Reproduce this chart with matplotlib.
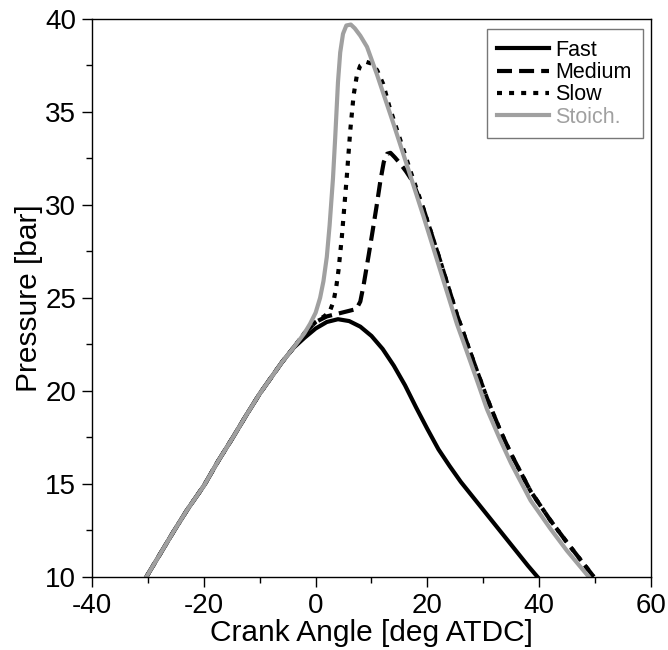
import matplotlib
matplotlib.use("Agg")
import matplotlib.pyplot as plt
from matplotlib.ticker import MultipleLocator

plt.rcParams['font.family'] = ['Liberation Sans', 'DejaVu Sans']
plt.rcParams['axes.unicode_minus'] = False

# crank angle [deg ATDC] / pressure [bar]
# compression stroke, common to all four cases
comp_ca = [-30.3, -28, -25.5, -23, -20, -17.5, -14.8, -12.5, -10, -8, -6, -4]
comp_p = [10.0, 11.15, 12.4, 13.6, 14.9, 16.2, 17.5, 18.65, 19.85, 20.7, 21.55, 22.3]

fast_ca = [-2, 0, 2, 4, 6, 8, 10, 12, 14, 16, 18, 20, 22, 24, 26, 28, 30, 32, 34, 36, 38, 39.7]
fast_p = [22.85, 23.35, 23.7, 23.85, 23.75, 23.45, 22.95, 22.25, 21.35, 20.3, 19.1, 17.95, 16.85,
          15.95, 15.1, 14.35, 13.6, 12.85, 12.1, 11.35, 10.6, 10.0]

medium_ca = [-2, 0, 2, 4, 6, 7.3, 8.0, 8.6, 9.5, 10.1, 10.9, 11.6, 12.2, 12.8, 13.4, 14.2,
             15.2, 16.2, 17.3]
medium_p = [23.1, 23.7, 24.0, 24.15, 24.3, 24.4, 24.8, 25.7, 27.3, 28.4, 29.9, 31.3, 32.3, 32.75,
            32.8, 32.55, 32.2, 31.8, 31.3]

slow_ca = [-2, 0, 1.5, 2.5, 3.2, 3.7, 4.1, 4.7, 5.6, 6.2, 6.8, 7.4, 8.0, 9.0, 10.0, 11.0,
           12.1, 13.2, 14.5, 17.0]
slow_p = [23.1, 23.7, 24.0, 24.25, 24.8, 25.6, 26.5, 28.3, 31.6, 34.0, 35.9, 37.0, 37.5, 37.7,
          37.6, 37.25, 36.5, 35.3, 34.1, 31.8]

# expansion stroke shared by the medium and slow cases
tail_ca = [19.3, 22.3, 25.3, 28.5, 30.7, 33, 35, 38.5, 42, 45, 49.8]
tail_p = [29.8, 27.0, 24.1, 21.4, 19.6, 17.9, 16.6, 14.6, 13.05, 11.85, 10.0]

stoich_ca = [-2, -1, 0, 0.8, 1.4, 2.0, 2.5, 3.1, 3.5, 4.0, 4.4, 4.9, 5.5, 6.3, 7.0, 8.0, 9.2,
             11.0, 13.9, 16.5, 19.3, 22.3, 25.3, 26.5, 28.5, 30.7, 33, 35, 38.5, 42, 45, 48.9]
stoich_p = [23.1, 23.6, 24.2, 25.0, 25.9, 27.2, 28.9, 31.4, 33.6, 36.6, 38.2, 39.2, 39.65, 39.7,
            39.5, 39.1, 38.5, 37.0, 34.4, 32.0, 29.4, 26.5, 23.6, 22.6, 20.9, 19.0, 17.4, 16.1,
            14.1, 12.6, 11.4, 10.0]

gray = '#a0a0a0'

fig = plt.figure(figsize=(6.68, 6.5), dpi=100)
ax = fig.add_axes([0.1382, 0.1128, 0.8358, 0.858])

ax.plot(comp_ca + fast_ca, comp_p + fast_p, color='black', lw=3, label='Fast')
ax.plot(comp_ca + medium_ca + tail_ca, comp_p + medium_p + tail_p, color='black', lw=3,
        dashes=(3.6, 1.7), label='Medium')
ax.plot(comp_ca + slow_ca + tail_ca, comp_p + slow_p + tail_p, color='black', lw=3,
        dashes=(1.2, 1.7), label='Slow')
ax.plot(comp_ca + stoich_ca, comp_p + stoich_p, color=gray, lw=3, label='Stoich.')

ax.set_xlim(-40, 60)
ax.set_ylim(10, 40)
ax.xaxis.set_major_locator(MultipleLocator(20))
ax.xaxis.set_minor_locator(MultipleLocator(10))
ax.yaxis.set_major_locator(MultipleLocator(5))
ax.yaxis.set_minor_locator(MultipleLocator(2.5))
ax.tick_params(which='both', direction='out', width=1, labelsize=20, pad=4.5)
ax.tick_params(which='major', length=7)
ax.tick_params(which='minor', length=4.5)
for s in ax.spines.values():
    s.set_linewidth(1)

ax.set_xlabel('Crank Angle [deg ATDC]', fontsize=21.5, labelpad=0)
ax.set_ylabel('Pressure [bar]', fontsize=21.5, labelpad=2)

leg = ax.legend(loc='upper right', bbox_to_anchor=(0.9856, 0.982), borderaxespad=0,
                fontsize=15.5, handlelength=2.4, handletextpad=0.3, labelspacing=0.06,
                fancybox=False, frameon=True, labelcolor='linecolor',
                borderpad=0.5)
leg.get_frame().set_edgecolor('#555555')
leg.get_frame().set_linewidth(1)

fig.savefig('out.png', dpi=100)
